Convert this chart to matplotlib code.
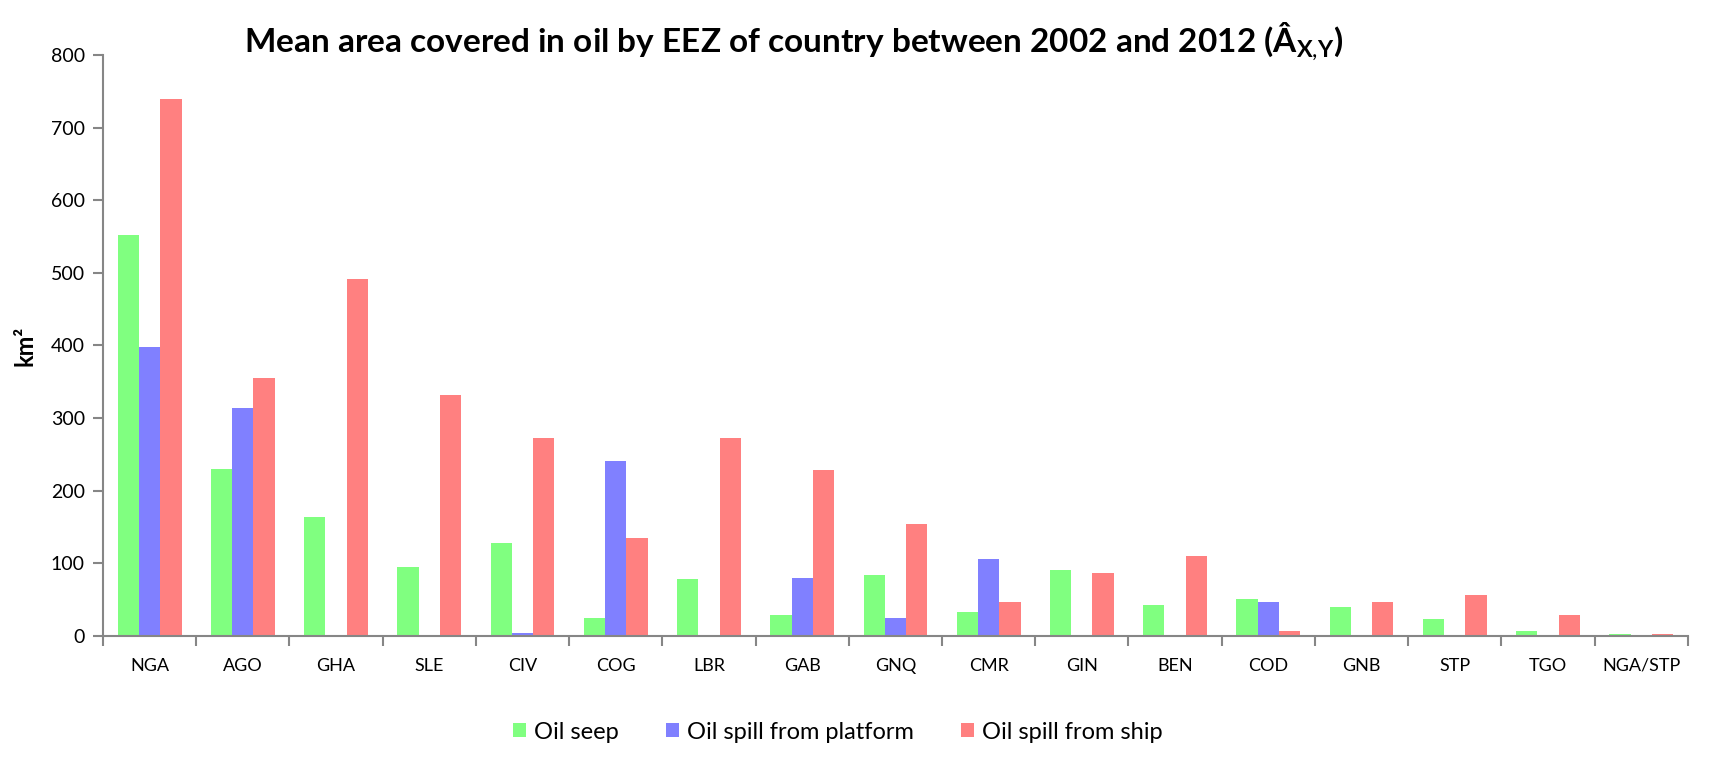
import matplotlib
matplotlib.use("Agg")
import matplotlib.pyplot as plt
import numpy as np

countries = ["NGA", "AGO", "GHA", "SLE", "CIV", "COG", "LBR", "GAB", "GNQ",
             "CMR", "GIN", "BEN", "COD", "GNB", "STP", "TGO", "NGA/STP"]
oil_seep = [552, 230, 164, 95, 128, 25, 78, 29, 83, 33, 90, 43, 51, 39, 23, 7, 3]
spill_platform = [398, 314, 0, 0, 4, 241, 0, 80, 24, 106, 0, 0, 46, 0, 0, 0, 0]
spill_ship = [740, 355, 492, 332, 273, 135, 272, 228, 154, 46, 86, 110, 6, 47, 56, 29, 2]
series_names = ["Oil seep", "Oil spill from platform", "Oil spill from ship"]
colors = ["#80FF80", "#8080FF", "#FF8080"]

plt.rcParams['font.family'] = ['Lato', 'DejaVu Sans']
plt.rcParams['mathtext.fontset'] = 'custom'
plt.rcParams['mathtext.bf'] = 'Lato:weight=bold'
plt.rcParams['mathtext.rm'] = 'Lato'

fig = plt.figure(figsize=(17.17, 7.65), dpi=100)
ax = fig.add_axes([0.060, 0.169, 0.923, 0.759])

x = np.arange(len(countries))
w = 0.228
for i, (vals, name, c) in enumerate(zip([oil_seep, spill_platform, spill_ship], series_names, colors)):
    ax.bar(x + (i - 1) * w, vals, width=w, color=c, label=name, zorder=2)

ax.set_xlim(-0.5, len(countries) - 0.5)
ax.set_ylim(0, 800)
ax.set_yticks(np.arange(0, 801, 100))
ax.set_xticks(x)
ax.set_xticklabels(countries)
ax.set_xticks(np.arange(-0.5, len(countries), 1), minor=True)

axis_color = "#868686"
for s in ["top", "right"]:
    ax.spines[s].set_visible(False)
for s in ["left", "bottom"]:
    ax.spines[s].set_color(axis_color)
    ax.spines[s].set_linewidth(1.5)
ax.tick_params(axis="x", which="major", length=0, pad=16, labelsize=13)
ax.tick_params(axis="x", which="minor", length=7, width=1.5, color=axis_color, direction="out")
ax.tick_params(axis="y", length=7, width=1.5, color=axis_color, labelsize=14, pad=6)

ax.set_ylabel("km²", fontsize=17, fontweight="bold", labelpad=10)
fig.text(0.462, 0.945, r"Mean area covered in oil by EEZ of country between 2002 and 2012 (Â$_{\mathbf{X}{,}\mathbf{Y}}$)",
         ha="center", va="center", fontsize=24, fontweight="bold")

leg = fig.legend(loc="center", bbox_to_anchor=(0.488, 0.043), ncol=3, frameon=False,
                 fontsize=17, handlelength=0.55, handleheight=0.55, handletextpad=0.35,
                 columnspacing=2.0)

fig.savefig("out.png", dpi=100)
